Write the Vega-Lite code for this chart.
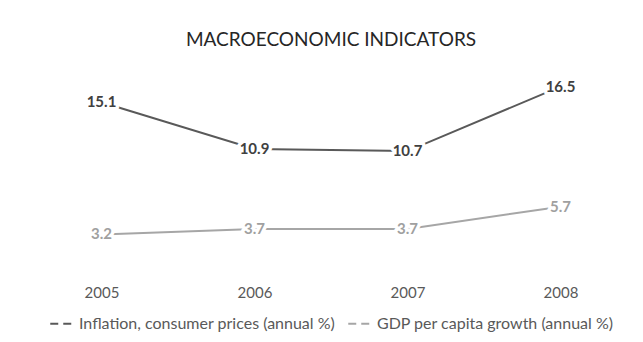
{
  "$schema": "https://vega.github.io/schema/vega-lite/v6.json",
  "autosize": "none",
  "width": 612,
  "height": 200,
  "padding": {"left": 25, "top": 70, "right": 6, "bottom": 72},
  "background": "white",
  "config": {
    "view": {"stroke": null},
    "font": "Lato",
    "legend": {"layout": {"bottom": {"anchor": "middle"}}}
  },
  "title": {
    "text": "MACROECONOMIC INDICATORS",
    "font": "Lato",
    "fontSize": 19,
    "fontWeight": "normal",
    "color": "#262626",
    "anchor": "middle",
    "offset": 20
  },
  "data": {
    "values": [
      {"year": "2005", "series": "Inflation, consumer prices (annual %)", "value": 15.1},
      {"year": "2006", "series": "Inflation, consumer prices (annual %)", "value": 10.9},
      {"year": "2007", "series": "Inflation, consumer prices (annual %)", "value": 10.7},
      {"year": "2008", "series": "Inflation, consumer prices (annual %)", "value": 16.5},
      {"year": "2005", "series": "GDP per capita growth (annual %)", "value": 3.2},
      {"year": "2006", "series": "GDP per capita growth (annual %)", "value": 3.7},
      {"year": "2007", "series": "GDP per capita growth (annual %)", "value": 3.7},
      {"year": "2008", "series": "GDP per capita growth (annual %)", "value": 5.7}
    ]
  },
  "encoding": {
    "x": {
      "field": "year",
      "type": "ordinal",
      "scale": {"paddingInner": 0, "paddingOuter": 0.5},
      "axis": {
        "title": null,
        "domain": false,
        "ticks": false,
        "labelAngle": 0,
        "labelPadding": 15,
        "labelFontSize": 15,
        "labelColor": "#595959",
        "labelFont": "Lato"
      }
    },
    "y": {
      "field": "value",
      "type": "quantitative",
      "scale": {"domain": [0, 18], "nice": false},
      "axis": null
    }
  },
  "layer": [
    {
      "mark": {"type": "line", "strokeWidth": 2},
      "encoding": {
        "color": {
          "field": "series",
          "type": "nominal",
          "scale": {
            "domain": ["Inflation, consumer prices (annual %)", "GDP per capita growth (annual %)"],
            "range": ["#595959", "#a6a6a6"]
          },
          "legend": {
            "title": null,
            "orient": "bottom",
            "direction": "horizontal",
            "offset": 10,
            "symbolType": "stroke",
            "symbolStrokeWidth": 2,
            "symbolDash": [8, 5],
            "symbolSize": 600,
            "labelFontSize": 16,
            "labelLimit": 400,
            "labelColor": "#595959",
            "labelFont": "Lato",
            "labelOffset": 3,
            "columnPadding": 8
          }
        }
      }
    },
    {
      "mark": {"type": "text", "fontSize": 15, "stroke": "white", "strokeWidth": 7, "strokeJoin": "round", "fill": "white", "fontWeight": "bold"},
      "encoding": {"text": {"field": "value", "type": "quantitative", "format": ".1f"}}
    },
    {
      "transform": [{"filter": "datum.series === 'Inflation, consumer prices (annual %)'"}],
      "mark": {"type": "text", "fontSize": 15, "fontWeight": "bold", "color": "#404040"},
      "encoding": {
        "text": {"field": "value", "type": "quantitative", "format": ".1f"}
      }
    },
    {
      "transform": [{"filter": "datum.series === 'GDP per capita growth (annual %)'"}],
      "mark": {"type": "text", "fontSize": 15, "fontWeight": "bold", "color": "#a0a0a0"},
      "encoding": {
        "text": {"field": "value", "type": "quantitative", "format": ".1f"}
      }
    }
  ]
}
